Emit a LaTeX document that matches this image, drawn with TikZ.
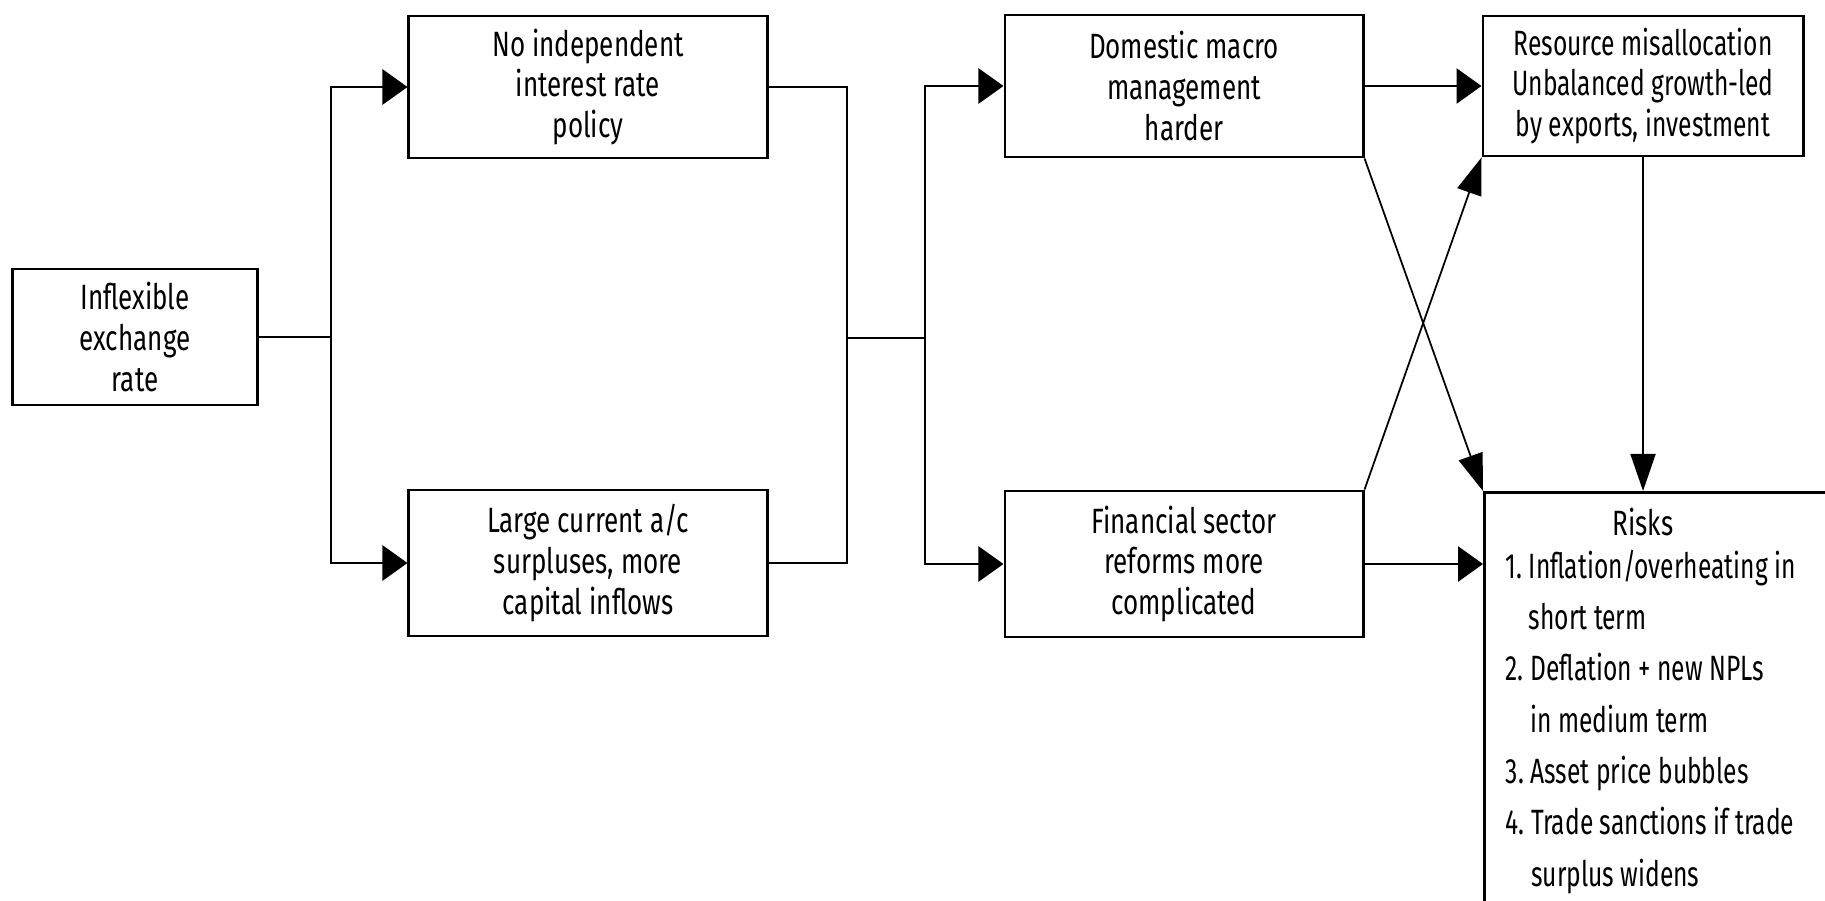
\documentclass[tikz,border=0pt]{standalone}
\usepackage{fontspec}
\setmainfont{Fira Sans}[FakeStretch=0.74]
\newfontfamily\narrowfont{Fira Sans}[FakeStretch=0.70]
\usetikzlibrary{arrows.meta}

\begin{document}
\begin{tikzpicture}[x=0.01cm, y=-0.01cm,
    box/.style={draw, line width=0.8pt, align=center, inner sep=0pt,
      minimum width=3.58cm, minimum height=1.42cm,
      font=\fontsize{10pt}{11.6pt}\selectfont},
    arr/.style={line width=0.8pt, -{Triangle[length=0.25cm,width=0.35cm]}},
    darr/.style={line width=0.5pt, -{Triangle[length=0.37cm,width=0.25cm]}}]
    \clip (0,0) rectangle (1825,900);

    % Boxes
    \node[box, minimum width=2.45cm, minimum height=1.36cm] (infl) at (135,337) {Inflexible\\exchange\\rate};
    \node[box] (noind) at (588,87) {No independent\\interest rate\\policy};
    \node[box, minimum height=1.46cm] (large) at (588,563) {Large current a/c\\surpluses, more\\capital inflows};
    \node[box] (dom) at (1184,86) {Domestic macro\\management\\harder};
    \node[box, minimum height=1.46cm] (fin) at (1184,564) {Financial sector\\reforms more\\complicated};
    \node[box, minimum width=3.2cm, minimum height=1.4cm, font=\narrowfont\fontsize{10pt}{11.6pt}\selectfont] (res) at (1643,86) {Resource misallocation\\Unbalanced growth-led\\by exports, investment};
    \node[box, anchor=north west, minimum width=6cm, minimum height=6cm] (risks) at (1483,491) {};

    % Text of the risks box
    \node[inner sep=0pt, font=\fontsize{10pt}{11.6pt}\selectfont] (risktitle) at (1643,522) {Risks};
    \node[anchor=north west, inner sep=0pt, align=left, font=\narrowfont\fontsize{10pt}{14.6pt}\selectfont] (risklist) at (1505,549)
      {1.\ Inflation/overheating in\\
       \phantom{1.\ }short term\\
       2.\ Deflation + new NPLs\\
       \phantom{2.\ }in medium term\\
       3.\ Asset price bubbles\\
       4.\ Trade sanctions if trade\\
       \phantom{4.\ }surplus widens};

    % Junctions
    \draw[line width=0.8pt] (infl.east) -- ++(72,0) coordinate (j1);
    \coordinate (j2) at (847,338);
    \coordinate (j3) at (925,338);

    % Connectors
    \draw[arr] (j1) |- (noind.west);
    \draw[arr] (j1) |- (large.west);
    \draw[line width=0.8pt] (noind.east) -| (j2) |- (large.east);
    \draw[line width=0.8pt] (j2) -- (j3);
    \draw[arr] (j3) |- (dom.west);
    \draw[arr] (j3) |- (fin.west);
    \draw[arr] (dom.east) -- (res.west);
    \draw[arr] (fin.east) -- (fin.east -| risks.west);
    \draw[darr] (dom.south east) -- (risks.north west);
    \draw[darr] (fin.north east) -- (res.south west);
    \draw[darr] (res.south) -- (res.south |- risks.north);

\end{tikzpicture}
\end{document}
